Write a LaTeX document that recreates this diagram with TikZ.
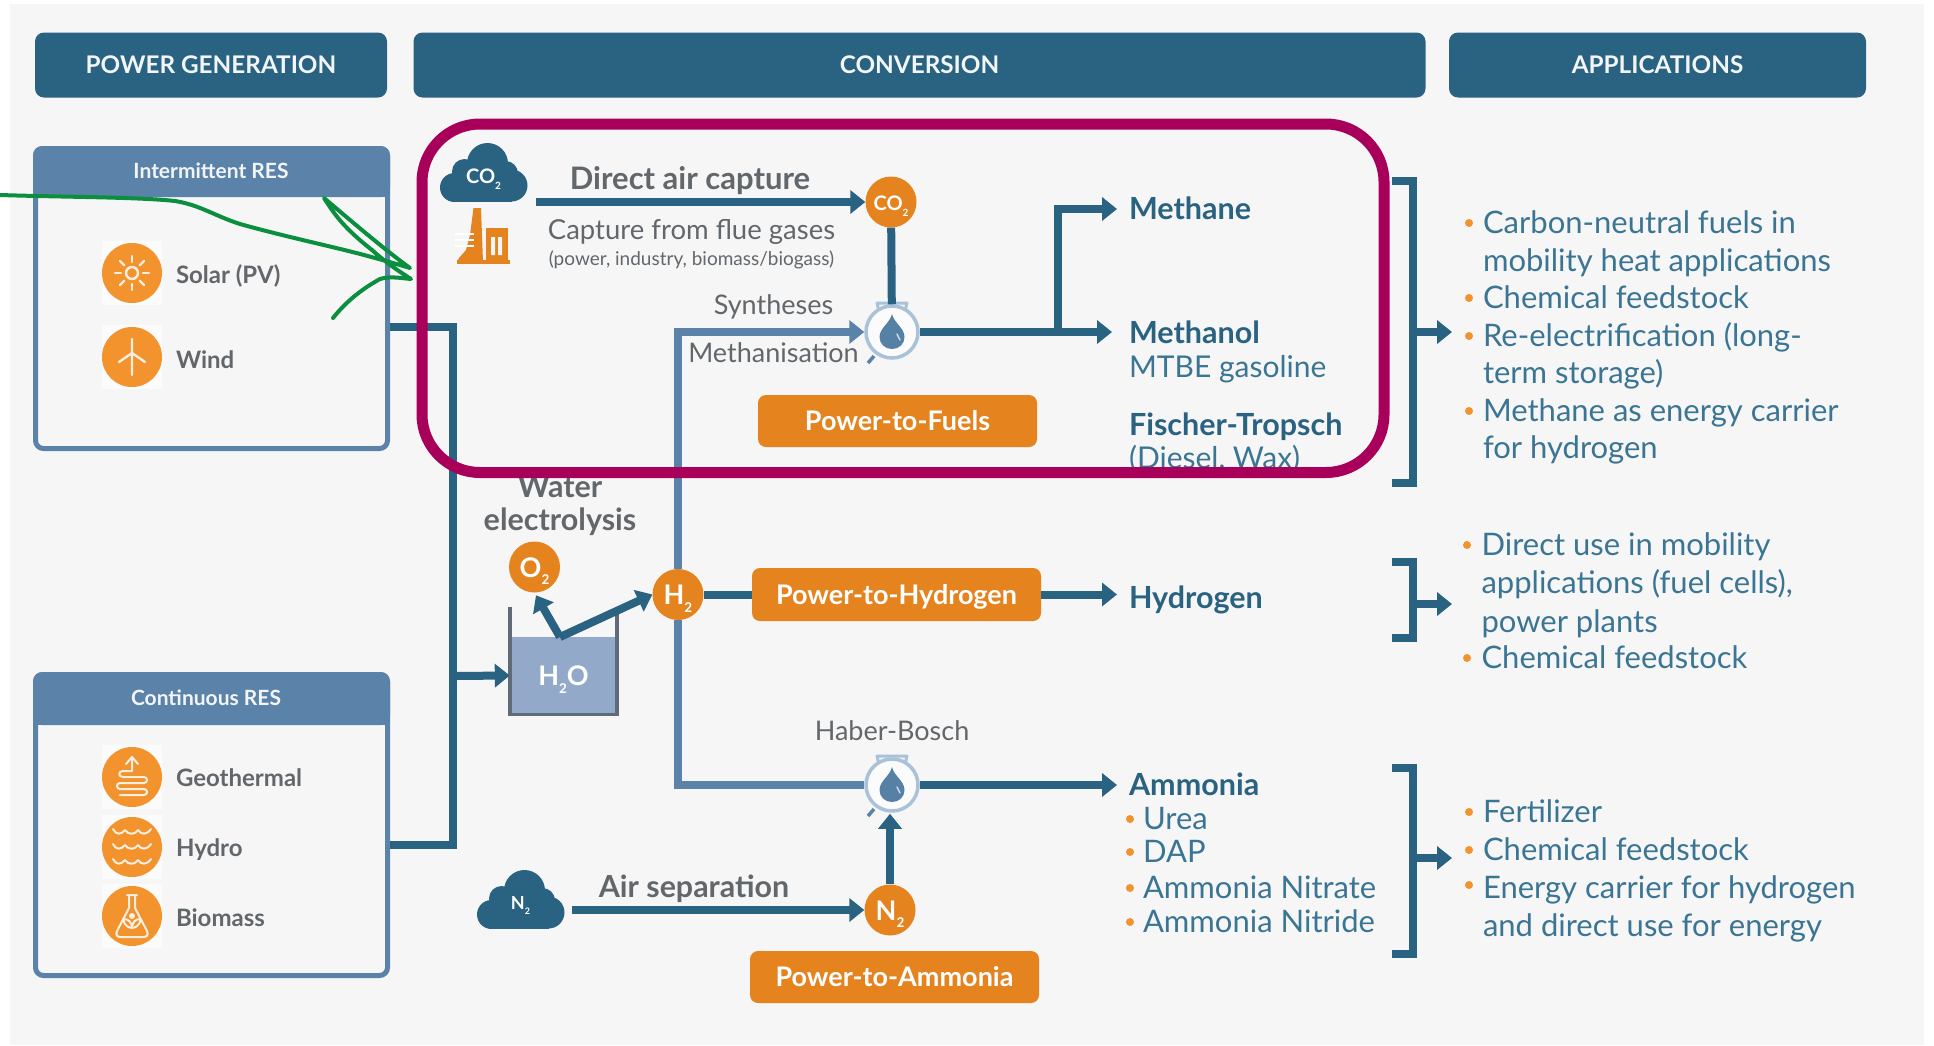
\documentclass[tikz,border=0pt]{standalone}
\usepackage{fontspec}
\setmainfont{Lato}
\usetikzlibrary{arrows.meta,calc}
\definecolor{pagebg}{HTML}{F6F6F6}
\definecolor{deep}{HTML}{2A6282}
\definecolor{mid}{HTML}{5B82A8}
\definecolor{orangedk}{HTML}{E5831F}
\definecolor{orangelt}{HTML}{F2932E}
\definecolor{plum}{HTML}{A8005A}
\definecolor{marker}{HTML}{0B8F3E}
\definecolor{greytxt}{HTML}{62676B}
\definecolor{tealtxt}{HTML}{3B7594}
\definecolor{water}{HTML}{93A9C9}
\definecolor{ring}{HTML}{A9C2D8}
\definecolor{wall}{HTML}{5F6B78}
\newcommand{\fs}[1]{\fontsize{#1pt}{#1pt}\selectfont}
\newcommand{\subs}[1]{\raisebox{-0.28em}{\scalebox{0.5}{#1}}}
\newcommand{\lowr}[2]{\raisebox{#1}[0pt][0pt]{#2}}
\tikzset{
  txt/.style={inner sep=0pt,outer sep=0pt},
  sz/.style={font=\fs{#1},text height=#1*.88pt,text depth=#1*.2pt},
  szb/.style={font=\fs{#1}\bfseries,text height=#1*.88pt,text depth=#1*.2pt},
  headbox/.style={fill=deep,rounded corners=9pt,inner sep=0pt,font=\fs{24.3}\bfseries,text=white!94!deep},
  resframe/.style={draw=mid,line width=5pt,rounded corners=8pt,inner sep=0pt},
  resfill/.style={fill=mid},
  restitle/.style={txt,szb=21,text=white!92!mid},
  energy/.style={circle,fill=orangelt,minimum size=60pt,inner sep=0pt},
  enlabel/.style={txt,anchor=west,szb=24,text=greytxt},
  stepc/.style={circle,fill=orangedk,minimum size=51pt,inner sep=0pt,text=white,font=\fs{27}\bfseries},
  orbox/.style={fill=orangedk,rounded corners=8pt,inner sep=0pt,text=white,font=\fs{27}\bfseries},
  flow/.style={draw=deep,line width=8pt},
  flowa/.style={flow,-{Triangle[length=15pt,width=23pt]}},
  lflow/.style={draw=mid,line width=8pt},
  lflowa/.style={lflow,-{Triangle[length=15pt,width=23pt]}},
  reactorc/.style={circle,draw=ring,line width=3.5pt,fill=white!60!pagebg,minimum size=52pt,inner sep=0pt},
  gtxt/.style={txt,sz=27,text=greytxt},
  titletxt/.style={txt,anchor=west,szb=30.5,text=deep},
  listtxt/.style={txt,anchor=west,sz=31,text=tealtxt},
  bul/.style={circle,fill=orangelt,minimum size=8pt,inner sep=0pt},
  bracketline/.style={draw=deep,line width=8pt},
  cloudlab/.style={inner sep=0pt,minimum width=88pt,minimum height=59pt,text=white,font=\fs{20}\bfseries},
  icon/.style={draw=white!85!orangelt,line width=2.4pt,line cap=round,line join=round},
  sunicon/.pic={
    \draw[icon] (0,0) circle (6);
    \foreach \a in {0,45,...,315} \draw[icon] (\a:11) -- (\a:17);
  },
  windicon/.pic={
    \draw[icon] (0,-18) -- (0,18) (-13,5) -- (0,-4) -- (13,5);
  },
  geoicon/.pic={
    \draw[icon,line width=2pt] (0,-18) -- (0,-6) -- (-9,-6) .. controls (-14,-6) and (-14,0) .. (-9,0) -- (12,0)
       .. controls (16,0) and (16,6) .. (12,6) -- (-12,6) .. controls (-16,6) and (-16,12) .. (-12,12) -- (12,12)
       .. controls (16,12) and (16,18) .. (12,18) -- (-12,18);
    \draw[icon,line width=2pt] (-6,-13) -- (0,-20) -- (6,-13);
  },
  hydroicon/.pic={
    \foreach \y in {-15,0,15}
      \draw[icon,line width=2pt] (-19,\y-3) .. controls (-16,\y+3) and (-11,\y+3) .. (-7,\y-2)
        .. controls (-4,\y+3) and (3,\y+3) .. (6,\y-2) .. controls (9,\y+3) and (15,\y+3) .. (19,\y-3);
  },
  bioicon/.pic={
    \draw[icon,line width=2pt] (-5,-21) -- (5,-21) (-3,-21) -- (-3,-8) -- (-15,15) .. controls (-17,20) and (-14,21) .. (-11,21)
       -- (11,21) .. controls (14,21) and (17,20) .. (15,15) -- (3,-8) -- (3,-21);
    \draw[icon,line width=2pt] (0,12) .. controls (-8,11) and (-9,4) .. (-8,3) .. controls (-4,3) and (0,6) .. (0,12)
       .. controls (8,11) and (9,4) .. (8,3) .. controls (4,3) and (0,6) .. (0,12);
    \fill[white!85!orangelt] (0,0) circle (3);
  },
  reactordeco/.pic={
    \draw[ring,line width=3pt,line join=round] (-13,-21) -- (-15,-29) -- (15,-29) -- (13,-21);
    \draw[mid,line width=3.5pt] (-24,31) -- (-18,24);
    \fill[mid!92!deep] (0,-18) .. controls (2,-9) and (12.5,-4) .. (12.5,5) .. controls (12.5,12) and (7,17) .. (0,17)
      .. controls (-7,17) and (-12.5,12) .. (-12.5,5) .. controls (-12.5,-4) and (-2,-9) .. (0,-18) -- cycle;
    \draw[white!70!mid,line width=1.5pt,line cap=round] (5,2) -- (8,8);
  },
  cloudshape/.pic={
    \fill[deep] (-29,15) circle (14.5) (28,13) circle (16) (-19,-1) circle (12.5) (22,1) circle (12.5) (4,-9) circle (20.5);
    \fill[deep] (-29,9) rectangle (28,29.5);
    \fill[deep] (-19,-3) rectangle (24,20);
  },
}
\begin{document}
\begin{tikzpicture}[x=1pt,y=-1pt]
\useasboundingbox (0,0) rectangle (1934,1045);
\fill[white] (0,0) rectangle (1934,1045);
\fill[pagebg] (10,4) rectangle (1924,1045);

% headers
\node[headbox,minimum width=352pt,minimum height=65pt] (hpg) at (211,65) {\lowr{-8pt}{POWER GENERATION}};
\node[headbox,minimum width=1012pt,minimum height=65pt] (hcv) at (919.5,65) {\lowr{-8pt}{CONVERSION}};
\node[headbox,minimum width=417pt,minimum height=65pt] (hap) at (1657.5,65) {\lowr{-8pt}{APPLICATIONS}};

% intermittent box
\fill[resfill,rounded corners=9pt] (33,146) -- (390,146) -- (390,197) -- (33,197) -- cycle;
\fill[resfill] (33,170) rectangle (390,197);
\node[resframe,minimum width=352pt,minimum height=300pt] (ibox) at (211.5,298.5) {};
\node[restitle] (ititle) at (211,171) {Intermittent RES};
% continuous box
\fill[resfill,rounded corners=9pt] (33,672) -- (390,672) -- (390,725) -- (33,725) -- cycle;
\fill[resfill] (33,700) rectangle (390,725);
\node[resframe,minimum width=352pt,minimum height=301pt] (cbox) at (211.5,825) {};
\node[restitle] (ctitle) at (206,698) {Continuous RES};

% energy icons
\foreach \y in {273,357,777,847,916} \fill[white!55!pagebg] (102,\y-32) rectangle (162,\y+32);
\node[energy] (solar) at (132,273) {}; \pic at (solar) {sunicon};
\node[energy] (wind) at (132,357) {}; \pic at (wind) {windicon};
\node[energy] (geo) at (132,777) {}; \pic at (geo) {geoicon};
\node[energy] (hydro) at (132,847) {}; \pic at (hydro) {hydroicon};
\node[energy] (bio) at (132,916) {}; \pic at (bio) {bioicon};
\node[enlabel] (lsolar) at (176,275) {Solar (PV)};
\node[enlabel] (lwind) at (176,360) {Wind};
\node[enlabel] (lgeo) at (176,778) {Geothermal};
\node[enlabel] (lhydro) at (176,848) {Hydro};
\node[enlabel] (lbio) at (176,918) {Biomass};

% power bus
\coordinate (busa) at (453,327);
\coordinate (busb) at (453,845);
\coordinate (busm) at (453,676);
\draw[flow] (ibox.east |- busa) -- (busa) -- (busb) -- (cbox.east |- busb);

% tank
\fill[water] (510,637) rectangle (617,714);
\node[inner sep=0pt,minimum width=107pt,minimum height=77pt,text=white,font=\fs{27}\bfseries] (tank) at (563.5,675.5) {\lowr{-10pt}{H\subs{2}O}};
\draw[wall,line width=3.5pt] (510,607) -- (510,714.5) -- (617,714.5) -- (617,609);
\draw[flowa] (busm) -- (tank.west);

% electrolysis
\node[txt,szb=30.5,text=greytxt] (wtr) at (560,487) {Water};
\node[txt,szb=30.5,text=greytxt] (elc) at (560,520) {electrolysis};
\node[stepc] (o2) at (534.5,567) {\lowr{-10pt}{O\subs{2}}};
\node[stepc] (h2) at (678,594.5) {\lowr{-10pt}{H\subs{2}}};
\coordinate (elec) at (560,637);
\draw[flowa,shorten >=3pt] (elec) -- (o2.south);
\draw[flowa] (elec) -- (h2.west);

% CO2 capture
\pic at (483.5,172.5) {cloudshape};
\node[cloudlab] (cco2) at (483.5,172.5) {\lowr{-11pt}{CO\subs{2}}};
\fill[orangedk] (473.5,208) -- (481,208) -- (483,262) -- (457,262) -- (459,258) -- (466,250) -- (470,235) -- cycle;
\fill[orangedk] (486,228) rectangle (507.5,260);
\fill[orangedk] (457,260) rectangle (510,263.5);
\fill[pagebg] (491,237) rectangle (495,255) (498,237) rectangle (502,255);
\draw[white,line width=1.6pt] (455,234) -- (474,234) (455,240) -- (474,240) (455,246) -- (474,246);

\node[txt,szb=31,text=greytxt] (dac) at (690,179) {Direct air capture};
\node[txt,sz=27.5,text=greytxt] (cfg) at (691.5,230) {Capture from flue gases};
\node[txt,sz=19,text=greytxt] (pow) at (691.5,259) {(power, industry, biomass/biogass)};
\node[gtxt] (syn) at (773.5,305) {Syntheses};
\node[gtxt] (met) at (773.5,353) {Methanisation};
\node[stepc] (co2) at (891,202) {\fs{20}\lowr{-8.5pt}{CO\subs{2}}};
\node[reactorc] (ra) at (892,332) {}; \pic at (ra) {reactordeco};
\draw[flowa] ([xshift=8pt]cco2.east |- co2) -- (co2.west);
\draw[flow] (co2) -- (ra);
\draw[lflowa] (h2.north) |- (ra.west);

\node[orbox,minimum width=279pt,minimum height=52pt] (ptf) at (897.5,421) {\lowr{-9.5pt}{Power-to-Fuels}};

% products
\node[titletxt] (methane) at (1129,209) {Methane};
\node[titletxt] (methanol) at (1129,333) {Methanol};
\node[listtxt,sz=30] (mtbe) at (1129,367) {MTBE gasoline};
\node[titletxt] (ft) at (1129,425) {Fischer-Tropsch};
\node[listtxt,sz=30] (dsl) at (1129,458) {(Diesel, Wax)};
\coordinate (fork) at (1058,332);
\draw[flowa,shorten >=17pt] (ra) -- (methanol.west |- ra);
\draw[flowa,shorten >=12pt] (fork) |- (methane.west);

% hydrogen
\node[orbox,minimum width=289pt,minimum height=53pt] (pth) at (896.5,594.5) {\lowr{-9.7pt}{Power-to-Hydrogen}};
\node[titletxt] (hyd) at (1129,598) {Hydrogen};
\draw[flow] (h2) -- (pth);
\draw[flowa,shorten >=12pt] (pth) -- (hyd.west |- pth);

% ammonia
\node[txt,sz=27,text=greytxt] (hb) at (892,731) {Haber-Bosch};
\node[reactorc] (rb) at (892,785) {}; \pic at (rb) {reactordeco};
\draw[lflow] (h2.south) |- (rb.west);
\node[stepc] (n2) at (890,910) {\lowr{-10pt}{N\subs{2}}};
\pic at (520.5,899.5) {cloudshape};
\node[cloudlab,font=\fs{18}\bfseries] (cn2) at (520.5,899.5) {\lowr{-10pt}{N\subs{2}}};
\node[txt,szb=30.4,text=greytxt] (airs) at (694,887) {Air separation};
\draw[flowa] ([xshift=7pt]cn2.east |- n2) -- (n2.west);
\draw[flowa,shorten >=1pt] (n2) -- (rb.south -| n2);
\node[orbox,minimum width=289pt,minimum height=52pt] (pta) at (894.5,977) {\lowr{-9.5pt}{Power-to-Ammonia}};
\node[titletxt] (amm) at (1129,785) {Ammonia};
\draw[flowa,shorten >=12pt] (rb) -- (amm.west);
\node[bul] (ub1) at (1130,819) {}; \node[listtxt] (urea) at (1143,819) {Urea};
\node[bul] (ub2) at (1130,852) {}; \node[listtxt] (dap) at (1143,852) {DAP};
\node[bul] (ub3) at (1130,888) {}; \node[listtxt] (anit) at (1143,888) {Ammonia Nitrate};
\node[bul] (ub4) at (1130,922) {}; \node[listtxt] (anid) at (1143,922) {Ammonia Nitride};

% brackets
\coordinate (ba) at (1412,332); \coordinate (bb) at (1412,604); \coordinate (bc) at (1412,858);
\coordinate (ta) at (1452,332); \coordinate (tb) at (1452,604); \coordinate (tc) at (1452,858);
\draw[bracketline] (1392,181) -- (1413,181) -- (1413,483) -- (1392,483);
\draw[bracketline] (1392,562) -- (1413,562) -- (1413,638) -- (1392,638);
\draw[bracketline] (1392,768) -- (1413,768) -- (1413,954) -- (1392,954);
\draw[flowa] (ba) -- (ta);
\draw[flowa] (bb) -- (tb);
\draw[flowa] (bc) -- (tc);

% applications
\node[bul] (aa1) at (1469,223) {}; \node[listtxt] (ta1) at (1483,223) {Carbon-neutral fuels in};
\node[listtxt] (ta2) at (1483,261) {mobility heat applications};
\node[bul] (aa3) at (1469,298) {}; \node[listtxt] (ta3) at (1483,298) {Chemical feedstock};
\node[bul] (aa4) at (1469,336) {}; \node[listtxt] (ta4) at (1483,336) {Re-electrification (long-};
\node[listtxt] (ta5) at (1483,373) {term storage)};
\node[bul] (aa6) at (1469,411) {}; \node[listtxt] (ta6) at (1483,411) {Methane as energy carrier};
\node[listtxt] (ta7) at (1483,448) {for hydrogen};

\node[bul] (ab1) at (1467,545) {}; \node[listtxt] (tb1) at (1481.5,545) {Direct use in mobility};
\node[listtxt] (tb2) at (1481.5,583) {applications (fuel cells),};
\node[listtxt] (tb3) at (1481.5,622) {power plants};
\node[bul] (ab4) at (1467,658) {}; \node[listtxt] (tb4) at (1481.5,658) {Chemical feedstock};

\node[bul] (ac1) at (1469,812) {}; \node[listtxt] (tc1) at (1483,812) {Fertilizer};
\node[bul] (ac2) at (1469,850) {}; \node[listtxt] (tc2) at (1483,850) {Chemical feedstock};
\node[bul] (ac3) at (1469,885) {}; \node[listtxt] (tc3) at (1483,888) {Energy carrier for hydrogen};
\node[listtxt] (tc4) at (1483,926) {and direct use for energy};

% annotations
\draw[plum,line width=11pt,rounded corners=58pt] (422,124) rectangle (1384,472.5);
\draw[marker,line width=4pt,line cap=round,line join=round]
  (0,195) .. controls (60,197) and (140,197) .. (175,201)
  .. controls (200,205) and (215,216) .. (240,224)
  .. controls (290,238) and (340,248) .. (375,258)
  .. controls (390,262) and (400,265) .. (410,268)
  .. controls (385,250) and (350,220) .. (324,198)
  .. controls (332,210) and (340,225) .. (372,250)
  .. controls (385,262) and (400,272) .. (411,279)
  .. controls (400,278) and (390,276) .. (380,279)
  .. controls (360,290) and (345,303) .. (333,318);
\end{tikzpicture}
\end{document}
